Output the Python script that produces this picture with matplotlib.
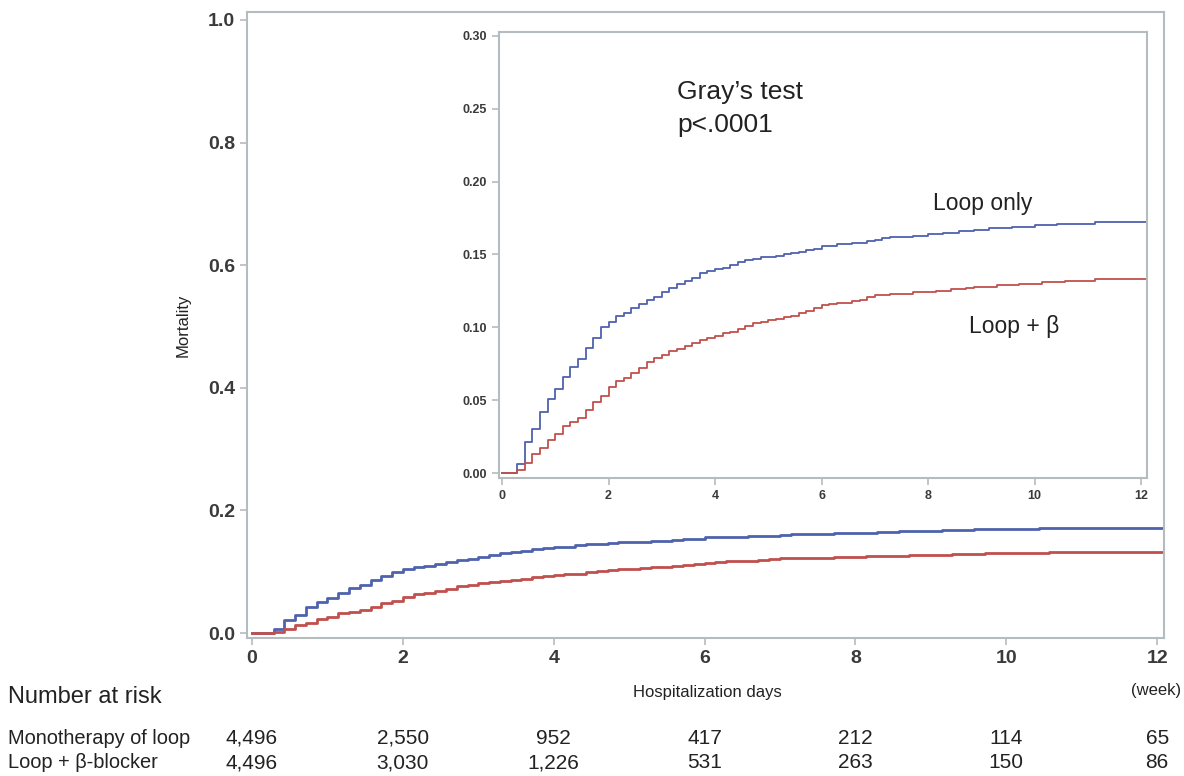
import numpy as np
import matplotlib.pyplot as plt

# daily cumulative mortality, day 0..84 (x axis is in weeks)
days = np.arange(0, 85)

loop_only = [0, 0, 0.006, 0.021, 0.030, 0.042, 0.051, 0.058, 0.066, 0.073,
             0.078, 0.086, 0.093, 0.100, 0.104, 0.108, 0.110, 0.113, 0.116, 0.119,
             0.121, 0.124, 0.127, 0.130, 0.132, 0.134, 0.137, 0.139, 0.140, 0.141,
             0.143, 0.145, 0.146, 0.147, 0.148, 0.148, 0.149, 0.150, 0.151, 0.152,
             0.153, 0.154, 0.156, 0.156, 0.157, 0.157, 0.158, 0.158, 0.159, 0.160,
             0.161, 0.162, 0.162, 0.162, 0.163, 0.163, 0.164, 0.164, 0.165, 0.165,
             0.166, 0.166, 0.167, 0.167, 0.168, 0.168, 0.168, 0.169, 0.169, 0.169,
             0.170, 0.170, 0.170, 0.171, 0.171, 0.171, 0.171, 0.171, 0.172, 0.172,
             0.172, 0.172, 0.172, 0.172, 0.172]

loop_beta = [0, 0, 0.002, 0.007, 0.013, 0.017, 0.023, 0.027, 0.032, 0.035,
             0.038, 0.043, 0.049, 0.053, 0.059, 0.063, 0.065, 0.069, 0.072, 0.076,
             0.079, 0.081, 0.084, 0.085, 0.087, 0.089, 0.091, 0.093, 0.094, 0.096,
             0.097, 0.099, 0.101, 0.103, 0.104, 0.105, 0.106, 0.107, 0.108, 0.110,
             0.111, 0.113, 0.115, 0.116, 0.117, 0.117, 0.118, 0.119, 0.121, 0.122,
             0.122, 0.123, 0.123, 0.123, 0.124, 0.124, 0.124, 0.125, 0.125, 0.126,
             0.126, 0.127, 0.128, 0.128, 0.128, 0.129, 0.129, 0.129, 0.130, 0.130,
             0.130, 0.131, 0.131, 0.131, 0.132, 0.132, 0.132, 0.132, 0.133, 0.133,
             0.133, 0.133, 0.133, 0.133, 0.133]

risk_weeks = [0, 2, 4, 6, 8, 10, 12]
risk_mono = ['4,496', '2,550', '952', '417', '212', '114', '65']
risk_beta = ['4,496', '3,030', '1,226', '531', '263', '150', '86']

blue = '#4e62ad'
red = '#c0504d'
spine_c = '#b4bcc0'
txt_c = '#222222'
font = ['Liberation Sans', 'DejaVu Sans']

weeks = np.append(days, 85) / 7.0
y1 = np.append(loop_only, loop_only[-1])
y2 = np.append(loop_beta, loop_beta[-1])


def style_axes(ax, size):
    for s in ax.spines.values():
        s.set_color(spine_c)
        s.set_linewidth(1.5)
    ax.tick_params(colors=spine_c, labelcolor='#3a3a3a', length=5, width=1.2,
                   labelsize=size)
    for lab in ax.get_xticklabels() + ax.get_yticklabels():
        lab.set_family(font)
        lab.set_fontweight('bold')


fig = plt.figure(figsize=(11.84, 7.76), dpi=100)

ax = fig.add_axes([247 / 1184, 1 - 638 / 776, 917 / 1184, 626 / 776])
ax.step(weeks, y1, where='post', color=blue, lw=2)
ax.step(weeks, y2, where='post', color=red, lw=2)
ax.set_xlim(-0.066, 12.09)
ax.set_ylim(-0.008, 1.013)
ax.set_xticks(range(0, 13, 2))
ax.set_yticks([0, 0.2, 0.4, 0.6, 0.8, 1.0])
ax.set_yticklabels(['%.1f' % v for v in ax.get_yticks()])
style_axes(ax, 14)

fig.text(183 / 1184, 1 - 325 / 776, 'Mortality', rotation=90, ha='center',
         va='center', fontsize=12, family=font, color=txt_c)
fig.text(707 / 1184, 1 - 692 / 776, 'Hospitalization days', ha='center',
         va='center', fontsize=12, family=font, color=txt_c)
fig.text(1156 / 1184, 1 - 690 / 776, '(week)', ha='center', va='center',
         fontsize=12, family=font, color=txt_c)

ins = fig.add_axes([499 / 1184, 1 - 478 / 776, 648 / 1184, 446 / 776])
ins.step(weeks, y1, where='post', color=blue, lw=1.3)
ins.step(weeks, y2, where='post', color=red, lw=1.3)
ins.set_xlim(-0.056, 12.11)
ins.set_ylim(-0.0034, 0.3027)
ins.set_xticks(range(0, 13, 2))
ins.set_yticks([0, 0.05, 0.10, 0.15, 0.20, 0.25, 0.30])
ins.set_yticklabels(['%.2f' % v for v in ins.get_yticks()])
style_axes(ins, 9)

ins.text(0.2747, 0.8498, 'Gray\u2019s test', transform=ins.transAxes,
         ha='left', va='baseline', fontsize=19, family=font, color=txt_c)
ins.text(0.2747, 0.7758, 'p<.0001', transform=ins.transAxes,
         ha='left', va='baseline', fontsize=19, family=font, color=txt_c)
ins.text(0.67, 0.615, 'Loop only', transform=ins.transAxes, ha='left',
         va='center', fontsize=16.5, family=font, color=txt_c)
ins.text(0.725, 0.34, 'Loop + \u03b2', transform=ins.transAxes, ha='left',
         va='center', fontsize=16.5, family=font, color=txt_c)

# number at risk table
fig.text(8 / 1184, 1 - 697 / 776, 'Number at risk', ha='left', va='center',
         fontsize=17, family=font, color=txt_c)
fig.text(8 / 1184, 1 - 738 / 776, 'Monotherapy of loop', ha='left',
         va='center', fontsize=14.4, family=font, color=txt_c)
fig.text(8 / 1184, 1 - 763 / 776, 'Loop + \u03b2-blocker', ha='left',
         va='center', fontsize=14.4, family=font, color=txt_c)
for i, w in enumerate(risk_weeks):
    xf = ax.transData.transform((w, 0))[0] / fig.bbox.width
    fig.text(xf, 1 - 738 / 776, risk_mono[i], ha='center', va='center',
             fontsize=15, family=font, color=txt_c)
    fig.text(xf, 1 - 763 / 776, risk_beta[i], ha='center', va='center',
             fontsize=15, family=font, color=txt_c)

fig.savefig('out.png', dpi=100)
